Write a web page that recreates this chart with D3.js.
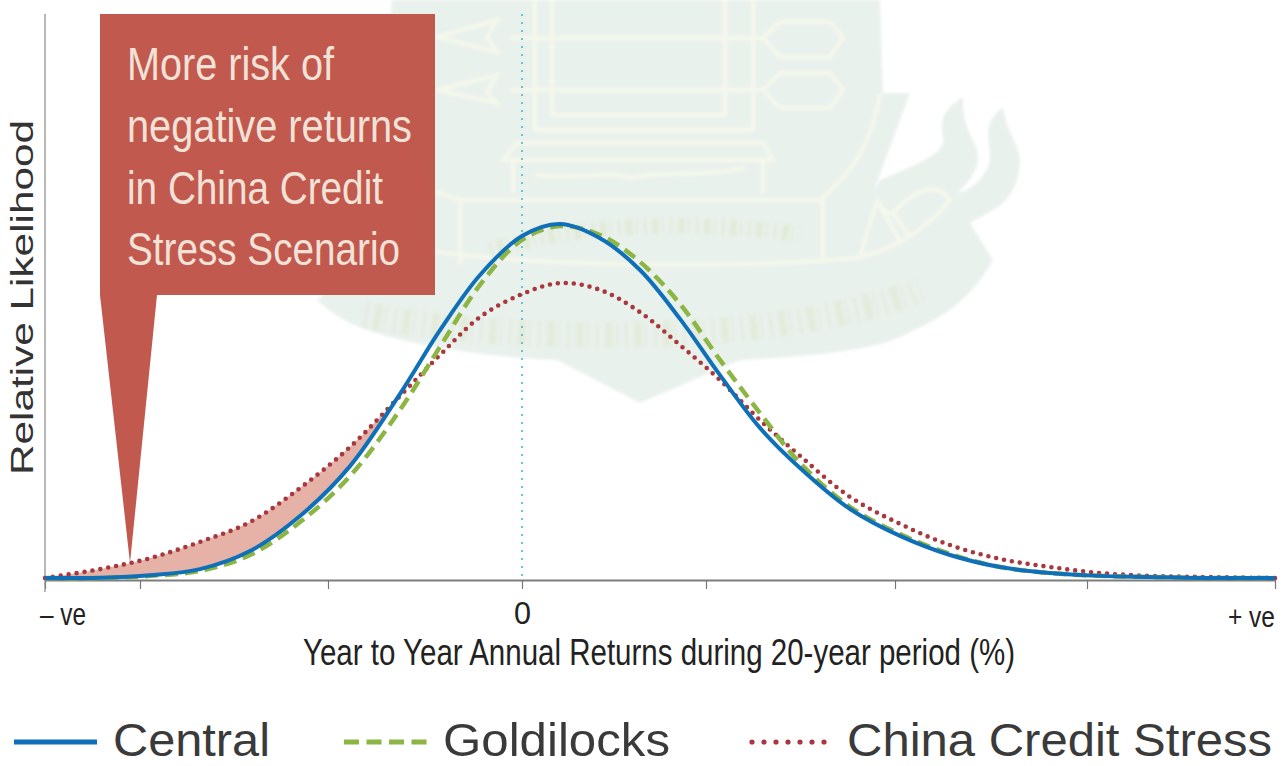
<!DOCTYPE html>
<html><head><meta charset="utf-8">
<script src="https://cdn.jsdelivr.net/npm/d3@7"></script>
<style>html,body{margin:0;padding:0;background:#fff;overflow:hidden}svg{display:block}text{font-family:"Liberation Sans",sans-serif}</style>
</head><body><svg id="c" width="1287" height="766"></svg>
<script>
const returnsGrid=[-4.77,-4.22,-3.72,-3.22,-2.72,-2.22,-1.72,-1.22,-0.82,-0.42,0,0.38,0.78,1.18,1.58,1.98,2.38,2.78,3.28,3.78,4.28,4.78,5.28,5.78,6.28,6.78,7.53];
const central=[0,0.1,0.8,2.5,7.6,17.5,31.6,52.0,70.0,85.6,96.6,100,96.0,87.0,73.2,57.3,42.4,31.1,19.5,11.9,6.5,3.1,1.4,0.6,0.3,0,0];
const goldilocks=[0,0,0.6,2.0,6.5,15.8,28.8,47.5,65.3,82.8,95.5,99.4,96.9,89.3,77.4,61.6,46.6,32.5,20.1,12.4,6.8,3.1,1.4,0.6,0.3,0,0];
const chinaStress=[0,2.5,5.6,10.2,15.8,25.4,37,51.4,63,73.7,80.2,83.3,81.4,75.1,65.8,55.9,44.6,34.5,22.9,15.3,9.3,5.4,3.1,1.4,0.6,0.3,0];
const xTicks=[-4.77,-3.82,-1.94,0,1.84,3.73,5.65,7.53];
const xTickLabels=["– ve","0","+ ve"];
const calloutLines=["More risk of","negative returns","in China Credit","Stress Scenario"];
const legendNames=["Central","Goldilocks","China Credit Stress"];

const svg=d3.select("#c");
const defs=svg.append("defs");
defs.append("filter").attr("id","soft").append("feGaussianBlur").attr("stdDeviation",1.5);
const x=d3.scaleLinear().domain([-4.77,7.53]).range([45,1275]);
const y=d3.scaleLinear().domain([0,100]).range([578,224]);

// pale watermark seal behind the chart
const wm=svg.append("g").attr("filter","url(#soft)");
const seal="M392,0 C385,60 395,130 430,190 L400,240 L317,300 C340,322 365,330 390,337 C430,348 500,358 557,360 L640,403 L740,360 C790,358 860,352 893,340 C930,323 965,310 993,260 L970,223 L993,210 C1008,202 1020,185 1020,160 C1018,140 1007,135 1003,107 C990,118 985,125 990,153 C992,170 975,190 957,193 C975,177 980,165 977,150 C972,135 962,125 963,97 C950,105 938,115 943,137 C945,150 935,158 880,180 L873,193 L910,93 L883,93 L880,0 Z";
wm.append("path").attr("d",seal).attr("fill","#e9f1ed");
const wmLines=[
 "M535,0 V130 H753 V0","M552,0 V115 H725 V0",
 "M510,38 H763","M510,90 H763",
 "M763,38 L780,22 H830 L843,38 L830,57 H780 Z","M763,90 L780,73 H830 L843,90 L830,108 H780 Z",
 "M437,37 L497,20 L487,37 L497,52 Z","M437,90 L497,75 L487,92 L497,103 Z",
 "M513,193 V160 L503,160 L517,143 H763 L773,160 H763 V193","M513,160 H763","M535,175 C580,180 610,170 630,178 C660,170 700,178 745,168",
 "M460,200 H823","M460,200 V265","M823,197 V258","M430,190 L460,200","M823,197 C855,170 873,140 880,93",
 "M380,240 C460,268 760,270 860,257 C900,247 930,225 950,200 C935,180 915,190 893,213 C885,215 880,205 877,200 L860,257 M877,200 L899,240 M893,213 L910,237"
];
wm.selectAll("path.l").data(wmLines).enter().append("path").attr("class","l").attr("d",d=>d).attr("fill","none").attr("stroke","#f5f8ea").attr("stroke-width",4);
// illegible lettering of the seal
wm.append("path").attr("d","M490,250 C570,225 700,218 800,235").attr("fill","none").attr("stroke","#dde7cb").attr("stroke-width",16).attr("stroke-dasharray","3 5 7 3 2 6").attr("opacity",0.6);
wm.append("path").attr("d","M365,315 C520,345 780,345 920,290").attr("fill","none").attr("stroke","#dde7cb").attr("stroke-width",26).attr("stroke-dasharray","3 6 8 3 2 7").attr("opacity",0.5);

// callout
svg.append("path").attr("d","M100,14H435V295H157L130,563L100,295Z").attr("fill","#bd4f44").attr("fill-opacity",0.94);

const idx=returnsGrid.map((d,i)=>i);
const shade=idx.filter(i=>returnsGrid[i]<=-1.22);
const curve=d3.curveCatmullRom.alpha(0.5);
svg.append("path").datum(shade).attr("fill","#e6b1a7")
 .attr("d",d3.area().x(i=>x(returnsGrid[i])).y0(i=>y(central[i])).y1(i=>y(chinaStress[i])).curve(curve));

// reference line at zero
svg.append("line").attr("x1",x(0)).attr("x2",x(0)).attr("y1",14).attr("y2",578).attr("stroke","#36b6c9").attr("stroke-width",1.5).attr("stroke-dasharray","2 6");

// axes
const ax=svg.append("g").attr("transform","translate(0,580)").call(d3.axisBottom(x).tickValues(xTicks).tickFormat("").tickSize(9).tickSizeOuter(0));
ax.selectAll("path").attr("stroke","#7d7d7d").attr("stroke-width",2);
ax.selectAll("line").attr("stroke","#777").attr("stroke-width",1.2);
svg.append("line").attr("x1",45).attr("x2",45).attr("y1",14).attr("y2",592).attr("stroke","#888").attr("stroke-width",1.2);

// series
const line=s=>d3.line().x(i=>x(returnsGrid[i])).y(i=>y(s[i])).curve(curve)(idx);
const styles=[["#a8383e",4.6,"0 8","round",chinaStress],["#8cb544",4.5,"13 7","butt",goldilocks],["#0f70b8",4,null,"butt",central]];
styles.forEach(([c,w,da,cap,s])=>{
 svg.append("path").attr("d",line(s)).attr("fill","none").attr("stroke",c).attr("stroke-width",w).attr("stroke-dasharray",da).attr("stroke-linecap",cap);
});

const label=(t,px,py,len,size,fill,opt={})=>{
 const e=svg.append("text").attr("x",px).attr("y",py).attr("font-size",size).attr("fill",fill).attr("textLength",len).attr("lengthAdjust","spacingAndGlyphs").text(t);
 if(opt.rotate)e.attr("transform",`rotate(-90 ${px} ${py})`);
 return e;
};
// callout text
const calloutW=[207,285,256,273],calloutB=[80,142,204,265];
calloutLines.forEach((t,i)=>label(t,127,calloutB[i],calloutW[i],46,"#f1e2d8"));

// axis text
label("Relative Likelihood",33,475,355,32,"#333",{rotate:true});
label(xTickLabels[0],40,625,46,32,"#222");
label(xTickLabels[1],514,624,17,32,"#222");
label(xTickLabels[2],1228,627,47,30,"#222");
label("Year to Year Annual Returns during 20-year period (%)",303,665,712,37,"#222");

// legend
const legX=[[14,97],[344,427],[752,826]],legT=[[113,157],[443,227],[847,425]];
const legStyle=[["#0f70b8",5,null,"butt"],["#8cb544",5,"15 7.5","butt"],["#a8383e",5.2,"0 12","round"]];
legendNames.forEach((n,i)=>{
 const [c,w,da,cap]=legStyle[i];
 svg.append("line").attr("x1",legX[i][0]).attr("x2",legX[i][1]).attr("y1",742).attr("y2",742).attr("stroke",c).attr("stroke-width",w).attr("stroke-dasharray",da).attr("stroke-linecap",cap);
 label(n,legT[i][0],755.5,legT[i][1],47,"#3a3a3a");
});
</script></body></html>
